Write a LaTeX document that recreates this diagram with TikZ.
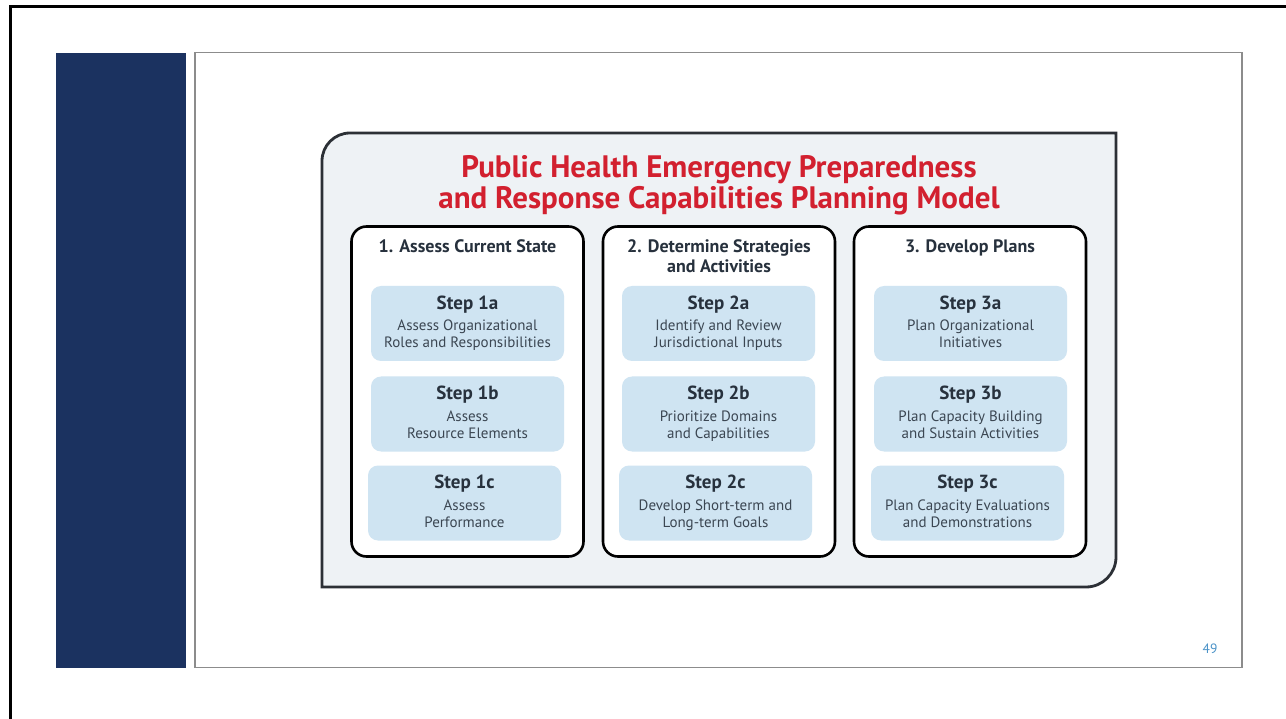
\documentclass[tikz,border=0pt]{standalone}
\usepackage{fontspec}
\setmainfont{PT Sans}
\definecolor{navy}{HTML}{1B3260}
\definecolor{framegray}{HTML}{8C8C8C}
\definecolor{panelfill}{HTML}{EEF2F5}
\definecolor{panelline}{HTML}{2C3036}
\definecolor{stepfill}{HTML}{CFE4F2}
\definecolor{headtext}{HTML}{27313D}
\definecolor{desctext}{HTML}{3B4652}
\definecolor{titlered}{HTML}{D2202F}
\definecolor{pagenum}{HTML}{4B93C8}
\tikzset{
  colbox/.style={draw=black, fill=white, line width=2.6pt, rounded corners=15pt,
    minimum width=232pt, minimum height=330pt, inner sep=0pt},
  colhead/.style={text=headtext, align=center, inner sep=0pt,
    font=\fontsize{18}{20}\selectfont\bfseries},
  stepbox/.style={fill=stepfill, rounded corners=10pt, minimum width=193pt,
    minimum height=75pt, inner sep=0pt, align=center, text=desctext,
    font=\fontsize{15}{17}\selectfont},
}
% step box contents: bold step label over two description lines
\newcommand{\steptext}[3]{{\fontsize{19}{22}\selectfont\bfseries\color{headtext}#1\strut}\\[2pt]#2\strut\\#3\strut}
\begin{document}
\begin{tikzpicture}[x=1pt,y=-1pt]
\useasboundingbox (0,0) rectangle (1286,719);
\fill[white] (0,0) rectangle (1286,719);
% slide edge
\draw[black, line width=3pt] (10.5,719) -- (10.5,6.5) -- (1286,6.5);
% side band and content frame
\fill[navy] (56,53) rectangle (186,668);
\draw[framegray, line width=1.2pt] (195,52.5) rectangle (1242,667.5);
% outer panel: rounded top-left and bottom-right corners
\draw[panelline, fill=panelfill, line width=2.8pt]
  (322,587) -- (322,161) arc (180:270:28) -- (1116,133)
  -- (1116,557) arc (0:90:30) -- cycle;
% title
\node[text=titlered, align=center, inner sep=0pt,
  font=\fontsize{31}{31}\selectfont\bfseries] (title) at (719,185)
  {Public Health Emergency Preparedness\\and Response Capabilities Planning Model};
% columns
\node[colbox] (col1) at (467.5,391.5) {};
\node[colbox] (col2) at (719,391.5) {};
\node[colbox] (col3) at (970,391.5) {};
\node[colhead, anchor=base] (h1) at (467.5,253) {1. Assess Current State};
\node[colhead, anchor=north] (h2) at (719,239) {2. Determine Strategies\\and Activities};
\node[colhead, anchor=base] (h3) at (970,253) {3. Develop Plans};
% steps
\node[stepbox] (s1a) at (467.5,323.5) {\steptext{Step 1a}{Assess Organizational}{Roles and Responsibilities}};
\node[stepbox] (s1b) at (467.5,414) {\steptext{Step 1b}{Assess}{Resource Elements}};
\node[stepbox] (s1c) at (464.5,503) {\steptext{Step 1c}{Assess}{Performance}};
\node[stepbox] (s2a) at (718.5,323.5) {\steptext{Step 2a}{Identify and Review}{Jurisdictional Inputs}};
\node[stepbox] (s2b) at (718.5,414) {\steptext{Step 2b}{Prioritize Domains}{and Capabilities}};
\node[stepbox] (s2c) at (715.5,503) {\steptext{Step 2c}{Develop Short-term and}{Long-term Goals}};
\node[stepbox] (s3a) at (970.5,323.5) {\steptext{Step 3a}{Plan Organizational}{Initiatives}};
\node[stepbox] (s3b) at (970.5,414) {\steptext{Step 3b}{Plan Capacity Building}{and Sustain Activities}};
\node[stepbox] (s3c) at (967.5,503) {\steptext{Step 3c}{Plan Capacity Evaluations}{and Demonstrations}};
% page number
\node[text=pagenum, font=\fontsize{13.5}{15}\selectfont, inner sep=0pt] (pg) at (1210,649) {49};
\end{tikzpicture}
\end{document}
